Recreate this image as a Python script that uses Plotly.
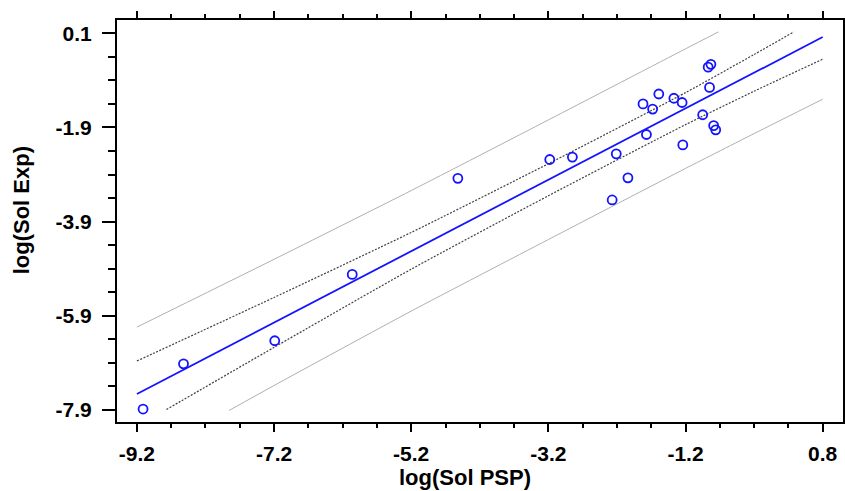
import plotly.graph_objects as go

# Observed points (log Sol PSP vs log Sol Exp)
psp = [-9.11, -8.52, -7.19, -6.06, -4.52, -3.18, -2.85, -2.21, -2.04, -2.27,
       -1.77, -1.82, -1.68, -1.59, -1.37, -1.25, -1.24, -0.95, -0.85, -0.87,
       -0.83, -0.79, -0.76]
exp = [-7.88, -6.92, -6.43, -5.02, -2.98, -2.58, -2.53, -2.46, -2.97, -3.44,
       -2.05, -1.40, -1.51, -1.19, -1.28, -1.37, -2.27, -1.63, -1.05, -0.62,
       -0.56, -1.86, -1.95]

# Regression line
fit_x = [-9.2, 0.8]
fit_y = [-7.56, 0.02]

# Confidence band (dark dotted)
conf_up_x = [-9.2, -7.2, -5.2, -3.2, -1.2, -0.2, 0.38]
conf_up_y = [-6.86, -5.51, -4.13, -2.67, -1.16, -0.35, 0.13]
conf_lo_x = [-8.77, -7.2, -5.2, -3.2, -1.2, -0.2, 0.8]
conf_lo_y = [-7.89, -6.57, -4.91, -3.35, -1.84, -1.13, -0.45]

# Prediction band (light grey)
pred_up_x = [-9.2, -7.2, -5.2, -3.2, -1.2, -0.72]
pred_up_y = [-6.14, -4.70, -3.24, -1.74, -0.23, 0.13]
pred_lo_x = [-7.855, -7.2, -5.2, -3.2, -1.2, -0.2, 0.8]
pred_lo_y = [-7.91, -7.38, -5.80, -4.28, -2.77, -2.03, -1.30]

x_ticks = [-9.2, -7.2, -5.2, -3.2, -1.2, 0.8]
x_labels = ["-9.2", "-7.2", "-5.2", "-3.2", "-1.2", "0.8"]
y_ticks = [0.1, -1.9, -3.9, -5.9, -7.9]
y_labels = ["0.1", "-1.9", "-3.9", "-5.9", "-7.9"]

x_range = [-9.49, 1.096]
y_range = [-8.155, 0.382]

FONT = "Liberation Sans, Arial, sans-serif"
BLUE = "#1414ff"

fig = go.Figure()
fig.add_trace(go.Scatter(x=pred_up_x, y=pred_up_y, mode="lines",
                         line=dict(color="#b0b0b0", width=1, shape="spline", smoothing=0.6),
                         hoverinfo="skip"))
fig.add_trace(go.Scatter(x=pred_lo_x, y=pred_lo_y, mode="lines",
                         line=dict(color="#b0b0b0", width=1, shape="spline", smoothing=0.6),
                         hoverinfo="skip"))
fig.add_trace(go.Scatter(x=conf_up_x, y=conf_up_y, mode="lines",
                         line=dict(color="#404040", width=1.2, dash="2px,1.5px",
                                   shape="spline", smoothing=0.6),
                         hoverinfo="skip"))
fig.add_trace(go.Scatter(x=conf_lo_x, y=conf_lo_y, mode="lines",
                         line=dict(color="#404040", width=1.2, dash="2px,1.5px",
                                   shape="spline", smoothing=0.6),
                         hoverinfo="skip"))
fig.add_trace(go.Scatter(x=fit_x, y=fit_y, mode="lines",
                         line=dict(color=BLUE, width=1.8)))
fig.add_trace(go.Scatter(x=psp, y=exp, mode="markers",
                         marker=dict(symbol="circle-open", size=9, color=BLUE,
                                     line=dict(color=BLUE, width=1.8))))
# dummy trace to carry the mirrored axes
fig.add_trace(go.Scatter(x=[None], y=[None], xaxis="x2", yaxis="y2",
                         mode="markers", hoverinfo="skip"))

tickfont = dict(family=FONT, size=21, color="black", weight="bold")

fig.update_layout(
    width=845, height=491,
    margin=dict(l=117, r=2, t=20, b=69),
    paper_bgcolor="white", plot_bgcolor="white",
    showlegend=False,
    xaxis=dict(range=x_range, showgrid=False, zeroline=False, automargin=False,
               showline=True, linewidth=2, linecolor="black",
               ticks="outside", ticklen=8, tickwidth=1.5, tickcolor="black",
               tickvals=x_ticks, ticktext=x_labels, tickfont=tickfont,
               ticklabelstandoff=4,
               minor=dict(ticks="outside", ticklen=4, tickwidth=1.5,
                          tickcolor="black", tick0=-9.2, dtick=0.5)),
    xaxis2=dict(range=x_range, overlaying="x", side="top", anchor="y",
                showgrid=False, zeroline=False, automargin=False,
                showline=True, linewidth=2, linecolor="black",
                ticks="outside", ticklen=7, tickwidth=1.5, tickcolor="black",
                tickvals=x_ticks, showticklabels=False,
                minor=dict(ticks="outside", ticklen=4, tickwidth=1.5,
                           tickcolor="black", tick0=-9.2, dtick=0.5)),
    yaxis=dict(range=y_range, showgrid=False, zeroline=False, automargin=False,
               showline=True, linewidth=2, linecolor="black",
               ticks="outside", ticklen=13, tickwidth=1.5, tickcolor="black",
               tickvals=y_ticks, ticktext=y_labels, tickfont=tickfont,
               ticklabelstandoff=6,
               minor=dict(ticks="outside", ticklen=7, tickwidth=1.5,
                          tickcolor="black", tick0=0.1, dtick=0.5)),
    yaxis2=dict(range=y_range, overlaying="y", side="right", anchor="x",
                showgrid=False, zeroline=False, automargin=False,
                showline=True, linewidth=2, linecolor="black",
                ticks="outside", ticklen=4, tickwidth=1.5, tickcolor="black",
                tickvals=y_ticks, showticklabels=False,
                minor=dict(ticks="outside", ticklen=4, tickwidth=1.5,
                           tickcolor="black", tick0=0.1, dtick=0.5)),
    annotations=[
        dict(text="log(Sol PSP)", xref="paper", yref="paper",
             x=0.480, y=-0.138, xanchor="center", yanchor="middle",
             showarrow=False,
             font=dict(family=FONT, size=22, color="black", weight="bold")),
        dict(text="log(Sol Exp)", xref="paper", yref="paper",
             x=-0.132, y=0.527, xanchor="center", yanchor="middle",
             textangle=-90, showarrow=False,
             font=dict(family=FONT, size=22, color="black", weight="bold")),
    ],
)

fig.write_html("out.html", config={"displayModeBar": False},
               post_script="document.body.style.margin='0';"
                           "document.body.style.overflow='hidden';")
